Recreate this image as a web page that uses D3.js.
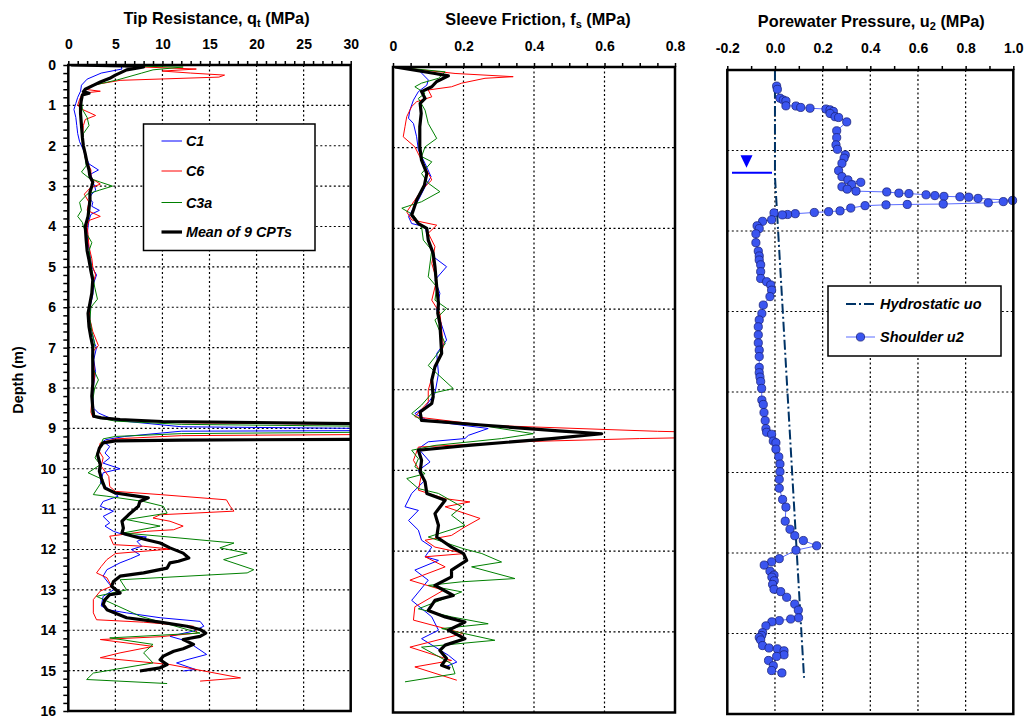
<!DOCTYPE html>
<html>
<head>
<meta charset="utf-8">
<script src="https://cdn.jsdelivr.net/npm/d3@7"></script>
<style>
body { margin: 0; background: #fff; }
svg { display: block; font-family: "Liberation Sans", Arial, sans-serif; }
</style>
</head>
<body>
<script>
// depth (m), value pairs
const qtC1 = [[0,0.1],[0.02,5.6],[0.1,5.7],[0.2,3.5],[0.35,2.0],[0.5,1.4],[0.65,1.3],[0.8,1.0],[0.95,0.8],[1.1,0.6],[1.3,0.8],[1.5,0.9],[1.7,1.0],[1.9,1.2],[2.1,1.6],[2.3,1.9],[2.45,2.2],[2.6,3.2],[2.7,2.4],[2.9,2.6],[3.0,2.8],[3.1,2.9],[3.2,2.5],[3.3,2.2],[3.4,2.6],[3.5,2.5],[3.6,3.3],[3.7,2.4],[3.85,2.2],[4.0,2.1],[4.2,2.0],[4.4,2.1],[4.7,2.3],[5.0,2.5],[5.2,3.0],[5.4,2.7],[5.7,2.6],[6.0,2.3],[6.3,2.3],[6.6,2.5],[6.9,2.8],[7.0,3.0],[7.3,2.7],[7.6,2.9],[7.9,2.7],[8.2,2.6],[8.5,2.7],[8.62,3.2],[8.8,5],[8.96,12],[9.02,40],[9.05,40],[9.07,12],[9.2,6],[9.28,4.0],[9.32,3.7],[9.45,4.4],[9.61,3.9],[9.73,4.4],[9.86,3.7],[10.0,5.5],[10.1,3.7],[10.35,3.4],[10.52,4.4],[10.68,5.3],[10.81,3.7],[10.93,3.4],[11.05,4.8],[11.18,3.7],[11.34,4.4],[11.42,3.9],[11.55,4.8],[11.63,5.85],[11.69,8.3],[11.8,7.3],[11.92,7.8],[12.0,6.7],[12.13,7.6],[12.23,6.6],[12.33,5.5],[12.5,4.1],[12.66,3.7],[12.87,4.4],[13.0,4.8],[13.16,3.7],[13.4,3.5],[13.5,4.4],[13.57,6.2],[13.69,9.75],[13.78,14.0],[13.9,14.4],[14.02,13.3],[14.15,10.8],[14.27,12.6],[14.6,14.7],[14.73,12.6],[14.81,11.5],[14.97,13.5],[15.01,12.2]];
const qtC6 = [[0,0.1],[0.05,8],[0.1,13.6],[0.15,10],[0.2,13],[0.25,16.6],[0.3,16.0],[0.38,5.5],[0.5,2.5],[0.6,1.7],[0.65,3.4],[0.7,1.5],[0.85,1.2],[1.0,1.0],[1.1,1.5],[1.25,2.9],[1.35,1.8],[1.5,1.6],[1.8,1.5],[2.0,1.6],[2.3,1.8],[2.6,2.4],[2.8,2.4],[2.95,3.4],[3.05,2.3],[3.2,1.7],[3.4,2.2],[3.6,2.0],[3.75,3.4],[3.85,2.2],[4.0,2.0],[4.2,2.1],[4.5,2.2],[4.8,2.5],[5.0,2.6],[5.2,2.9],[5.4,2.6],[5.7,2.5],[6.0,2.2],[6.3,2.3],[6.6,2.6],[6.95,3.2],[7.1,2.6],[7.4,2.7],[7.7,2.8],[8.0,2.6],[8.3,2.5],[8.6,2.4],[8.72,2.6],[8.8,6],[8.86,12],[8.92,40],[9.14,40],[9.18,12],[9.26,5],[9.36,3.4],[9.53,3.2],[9.73,3.7],[9.94,3.5],[10.19,4.3],[10.44,4.4],[10.56,5.0],[10.64,9.75],[10.77,16.8],[10.93,17.2],[11.05,17.6],[11.14,9.75],[11.22,9.0],[11.3,10.8],[11.42,12.2],[11.51,11.2],[11.55,8.3],[11.67,4.4],[11.88,4.8],[11.92,8.0],[11.99,10.8],[12.1,5.0],[12.25,4.1],[12.42,3.5],[12.58,3.0],[12.7,4.1],[12.91,4.6],[13.03,3.4],[13.24,2.66],[13.57,2.66],[13.74,3.0],[13.8,8.0],[13.9,13.3],[14.07,13.7],[14.16,9.75],[14.23,3.4],[14.4,9.0],[14.56,5.5],[14.68,3.4],[14.85,10.8],[15.18,18.3],[15.26,14.0]];
const qtC3a = [[0,0.1],[0.05,12.2],[0.12,9],[0.2,7.8],[0.37,5.2],[0.5,2.7],[0.6,1.9],[0.75,1.5],[0.9,1.4],[1.1,1.5],[1.3,2.0],[1.5,2.2],[1.7,1.6],[1.9,1.5],[2.1,1.7],[2.3,1.8],[2.5,1.9],[2.65,1.4],[2.8,2.2],[2.9,3.4],[3.0,4.7],[3.1,3.3],[3.2,2.0],[3.4,1.2],[3.6,1.4],[3.75,1.0],[3.9,1.5],[4.0,1.6],[4.2,2.0],[4.4,2.5],[4.6,2.2],[4.9,2.4],[5.2,2.6],[5.5,2.8],[5.8,3.1],[6.0,2.4],[6.3,2.3],[6.6,2.5],[6.9,2.8],[7.2,2.5],[7.5,2.6],[7.8,3.2],[8.0,2.8],[8.3,2.6],[8.6,2.5],[8.72,2.7],[8.82,5],[8.9,12],[8.97,40],[9.08,40],[9.13,12],[9.2,5],[9.26,3.7],[9.73,2.84],[9.9,3.4],[10.1,2.1],[10.27,3.7],[10.64,2.66],[10.68,4.1],[10.81,8.0],[10.93,10.1],[11.1,10.5],[11.26,6.2],[11.42,9.75],[11.59,5.85],[11.67,9.75],[11.84,17.6],[11.96,16.1],[12.09,19.0],[12.25,16.5],[12.5,19.7],[12.58,19.0],[12.75,5.5],[13.0,6.2],[13.16,3.0],[13.65,7.6],[13.98,12.6],[14.07,14.0],[14.19,4.4],[14.35,9.0],[14.56,8.0],[14.81,9.0],[15.06,2.66],[15.22,1.95],[15.32,10.5]];
const qtMean = [[0,0.3],[0.02,6],[0.05,8.0],[0.12,6.2],[0.25,5.0],[0.33,4.4],[0.42,3.4],[0.5,2.7],[0.6,1.8],[0.66,1.6],[0.7,2.2],[0.74,1.5],[0.85,1.4],[1.0,1.3],[1.2,1.3],[1.5,1.4],[1.8,1.5],[2.0,1.6],[2.2,1.8],[2.43,2.0],[2.6,2.2],[2.76,2.3],[2.9,2.6],[3.0,2.5],[3.15,2.3],[3.34,2.3],[3.55,2.2],[3.75,2.1],[4.0,1.8],[4.33,1.9],[4.6,2.0],[4.83,2.2],[5.1,2.4],[5.32,2.6],[5.65,2.5],[5.9,2.3],[6.15,2.1],[6.48,2.2],[6.75,2.4],[6.97,2.6],[7.3,2.6],[7.6,2.6],[7.9,2.6],[8.2,2.5],[8.5,2.6],[8.7,2.7],[8.74,3.5],[8.78,5.5],[8.83,10],[8.88,30],[8.95,50],[9.2,50],[9.27,30],[9.29,12],[9.31,5.0],[9.36,3.7],[9.49,3.3],[9.65,3.1],[9.9,3.4],[10.06,3.3],[10.27,3.55],[10.48,3.9],[10.6,5.0],[10.67,7.1],[10.72,8.5],[10.81,7.6],[10.93,7.45],[11.14,6.4],[11.3,5.7],[11.47,5.85],[11.59,5.7],[11.63,6.2],[11.76,8.3],[11.84,9.75],[11.96,10.8],[12.09,12.2],[12.21,12.8],[12.29,11.7],[12.33,10.8],[12.46,10.5],[12.58,8.0],[12.66,5.5],[12.79,4.8],[12.91,4.6],[13.08,5.5],[13.12,4.4],[13.24,3.9],[13.36,3.7],[13.49,4.1],[13.69,6.2],[13.8,9.75],[13.9,12.6],[13.98,14.0],[14.07,14.6],[14.15,14.0],[14.23,12.2],[14.35,13.3],[14.46,12.2],[14.52,11.2],[14.64,10.1],[14.73,9.75],[14.85,10.5],[14.93,9.75],[15.01,7.6]];

const fsC1 = [[0,0.006],[0.07,0.072],[0.32,0.1],[0.45,0.096],[0.61,0.072],[0.82,0.058],[1.07,0.048],[1.27,0.044],[1.4,0.058],[1.73,0.067],[2.06,0.072],[2.39,0.091],[2.72,0.108],[2.97,0.091],[3.3,0.072],[3.71,0.044],[3.88,0.053],[3.96,0.091],[4.29,0.1],[4.7,0.114],[4.95,0.152],[5.28,0.119],[5.61,0.133],[6.02,0.124],[6.77,0.152],[7.1,0.124],[7.6,0.129],[8.09,0.119],[8.43,0.091],[8.59,0.062],[8.77,0.1],[8.96,0.27],[9.13,0.214],[9.21,0.204],[9.29,0.1],[9.46,0.072],[9.79,0.105],[10.0,0.072],[10.24,0.091],[10.57,0.053],[10.9,0.034],[10.99,0.072],[11.24,0.044],[11.48,0.072],[11.73,0.081],[11.9,0.11],[12.14,0.091],[12.23,0.129],[12.47,0.062],[12.72,0.1],[13.22,0.053],[13.63,0.11],[13.96,0.129],[14.17,0.081],[14.58,0.157],[14.75,0.181],[14.87,0.148]];
const fsC6 = [[0,0.006],[0.16,0.176],[0.24,0.341],[0.28,0.261],[0.4,0.195],[0.49,0.166],[0.57,0.1],[0.74,0.11],[0.86,0.067],[0.98,0.053],[1.23,0.039],[1.48,0.034],[1.73,0.029],[1.98,0.062],[2.31,0.081],[2.8,0.11],[3.05,0.081],[3.3,0.062],[3.59,0.039],[3.79,0.053],[3.92,0.124],[4.12,0.1],[4.45,0.119],[4.87,0.11],[5.28,0.124],[5.78,0.11],[6.1,0.133],[6.93,0.143],[7.43,0.119],[8.01,0.1],[8.3,0.1],[8.67,0.062],[8.88,0.261],[9.03,0.75],[9.07,0.95],[9.17,0.95],[9.21,0.7],[9.29,0.356],[9.42,0.072],[9.75,0.058],[10.08,0.081],[10.49,0.072],[10.7,0.148],[10.78,0.218],[10.9,0.148],[11.19,0.247],[11.4,0.204],[11.61,0.166],[11.73,0.091],[11.9,0.119],[12.06,0.204],[12.14,0.091],[12.39,0.148],[12.72,0.048],[12.97,0.143],[13.38,0.062],[13.71,0.058],[14.04,0.2],[14.38,0.048],[14.71,0.166],[14.87,0.062],[15.2,0.181]];
const fsC3a = [[0,0.006],[0.12,0.148],[0.28,0.129],[0.4,0.081],[0.49,0.062],[0.65,0.091],[0.78,0.072],[1.07,0.091],[1.4,0.1],[1.77,0.124],[1.98,0.091],[2.22,0.081],[2.35,0.11],[2.64,0.081],[2.88,0.1],[3.09,0.133],[3.34,0.081],[3.5,0.025],[3.67,0.058],[3.96,0.081],[4.29,0.086],[4.54,0.11],[5.2,0.1],[5.45,0.124],[5.78,0.119],[5.98,0.152],[6.27,0.119],[6.86,0.148],[7.4,0.1],[7.97,0.171],[8.09,0.11],[8.38,0.081],[8.59,0.053],[8.76,0.081],[8.9,0.261],[9.09,0.398],[9.21,0.308],[9.38,0.119],[9.5,0.053],[9.71,0.072],[9.91,0.062],[10.08,0.091],[10.2,0.039],[10.45,0.072],[10.57,0.129],[10.9,0.195],[11.11,0.166],[11.36,0.204],[11.65,0.1],[11.94,0.2],[12.06,0.252],[12.27,0.308],[12.39,0.223],[12.68,0.346],[12.76,0.195],[12.85,0.1],[13.01,0.195],[13.43,0.072],[13.63,0.166],[13.8,0.27],[13.92,0.138],[14.21,0.289],[14.38,0.081],[14.79,0.166],[15.04,0.176],[15.24,0.034]];
const fsMean = [[0,0.006],[0.16,0.119],[0.22,0.157],[0.36,0.124],[0.49,0.11],[0.61,0.081],[0.78,0.091],[0.9,0.077],[1.15,0.08],[1.48,0.076],[1.98,0.076],[2.31,0.081],[2.64,0.096],[2.93,0.089],[3.3,0.067],[3.67,0.053],[3.88,0.072],[4.0,0.096],[4.29,0.1],[4.62,0.114],[4.95,0.119],[5.45,0.124],[5.86,0.129],[6.1,0.127],[6.36,0.133],[7.1,0.138],[7.43,0.119],[7.76,0.11],[8.17,0.114],[8.34,0.11],[8.55,0.077],[8.76,0.081],[8.88,0.261],[9.02,0.469],[9.09,0.592],[9.21,0.45],[9.38,0.214],[9.5,0.072],[9.75,0.081],[10.04,0.077],[10.28,0.091],[10.57,0.096],[10.74,0.148],[11.07,0.119],[11.36,0.129],[11.65,0.124],[11.9,0.166],[12.06,0.2],[12.23,0.209],[12.47,0.166],[12.64,0.166],[12.85,0.119],[13.1,0.171],[13.22,0.119],[13.47,0.1],[13.63,0.148],[13.76,0.204],[13.96,0.157],[14.17,0.204],[14.33,0.148],[14.46,0.133],[14.66,0.152],[14.83,0.138],[14.91,0.162]];

const u0 = [[0,0],[2.65,0],[15.1,0.122]];
const u2 = [[0.40,0.007],[0.48,0.01],[0.70,0.021],[0.745,0.035],[0.77,0.046],[0.89,0.046],[0.895,0.088],[0.93,0.108],[0.95,0.147],[0.97,0.214],[0.99,0.231],[1.03,0.245],[1.08,0.231],[1.16,0.252],[1.18,0.267],[1.29,0.301],[1.51,0.259],[1.68,0.259],[1.86,0.256],[1.97,0.262],[2.11,0.295],[2.19,0.29],[2.32,0.281],[2.50,0.267],[2.65,0.281],[2.73,0.306],[2.79,0.36],[2.85,0.322],[2.90,0.281],[2.96,0.303],[3.01,0.34],[3.03,0.469],[3.06,0.52],[3.07,0.562],[3.10,0.634],[3.12,0.671],[3.14,0.709],[3.15,0.776],[3.16,0.813],[3.19,0.852],[3.24,0.997],[3.27,0.958],[3.30,0.895],[3.33,0.706],[3.34,0.555],[3.35,0.466],[3.37,0.378],[3.43,0.318],[3.50,0.273],[3.52,0.225],[3.54,0.165],[3.57,0.085],[3.59,0.053],[3.60,0.031],[3.55,-0.004],[3.72,-0.014],[3.76,-0.052],[3.87,-0.075],[3.94,-0.066],[4.07,-0.08],[4.29,-0.08],[4.50,-0.07],[4.62,-0.066],[4.72,-0.066],[4.84,-0.06],[5.01,-0.06],[5.18,-0.06],[5.26,-0.035],[5.34,-0.018],[5.47,-0.014],[5.63,-0.021],[5.84,-0.049],[6.05,-0.055],[6.21,-0.066],[6.38,-0.07],[6.58,-0.07],[6.78,-0.07],[6.96,-0.066],[7.12,-0.066],[7.39,-0.066],[7.52,-0.066],[7.63,-0.063],[7.74,-0.06],[7.91,-0.056],[8.20,-0.055],[8.31,-0.049],[8.51,-0.046],[8.71,-0.041],[8.91,-0.038],[9.00,-0.035],[9.05,-0.014],[9.22,-0.007],[9.26,0.004],[9.42,0.004],[9.61,0.016],[9.79,0.021],[9.98,0.021],[10.17,0.018],[10.39,0.018],[10.67,0.032],[10.86,0.046],[11.21,0.043],[11.41,0.063],[11.57,0.083],[11.69,0.119],[11.82,0.175],[11.93,0.088],[12.14,0.018],[12.22,-0.014],[12.30,-0.045],[12.45,-0.021],[12.55,-0.004],[12.60,-0.013],[12.69,-0.003],[12.78,-0.01],[12.90,-0.004],[12.96,0.024],[13.10,0.049],[13.27,0.083],[13.42,0.098],[13.61,0.099],[13.64,0.066],[13.68,0.018],[13.71,-0.013],[13.81,-0.038],[13.98,-0.052],[14.05,-0.056],[14.10,-0.066],[14.16,-0.06],[14.30,-0.052],[14.36,-0.025],[14.38,0.01],[14.43,0.038],[14.53,0.038],[14.57,0.007],[14.67,-0.027],[14.80,-0.007],[14.92,-0.014],[14.98,0.029]];

const depthTicks = d3.range(0, 17, 1);
const qtTicks = [0, 5, 10, 15, 20, 25, 30];
const fsTicks = [0, 0.2, 0.4, 0.6, 0.8];
const uTicks = [-0.2, 0, 0.2, 0.4, 0.6, 0.8, 1.0];
const cptNames = ["C1", "C6", "C3a", "Mean of 9 CPTs"];
const cptColors = ["#0000ff", "#ff0000", "#008000", "#000000"];

const svg = d3.select("body").append("svg")
  .attr("width", 1029)
  .attr("height", 722);

svg.append("rect").attr("width", 1029).attr("height", 722).attr("fill", "#fff");

function makePanel(id, xDom, xRange, yRange, opt) {
  const x = d3.scaleLinear().domain(xDom).range(xRange);
  const y = d3.scaleLinear().domain([0, 16]).range(yRange);
  const g = svg.append("g");

  g.append("clipPath").attr("id", id)
    .append("rect")
    .attr("x", xRange[0]).attr("y", yRange[0])
    .attr("width", xRange[1] - xRange[0]).attr("height", yRange[1] - yRange[0]);

  // dotted grid
  g.selectAll(".vg").data(opt.xGrid).enter().append("line")
    .attr("x1", d => x(d)).attr("x2", d => x(d))
    .attr("y1", yRange[0]).attr("y2", yRange[1])
    .attr("stroke", "#000").attr("stroke-width", 1.2).attr("stroke-dasharray", "2,2.5");
  g.selectAll(".hg").data(opt.yGrid).enter().append("line")
    .attr("x1", xRange[0]).attr("x2", xRange[1])
    .attr("y1", d => y(d)).attr("y2", d => y(d))
    .attr("stroke", "#000").attr("stroke-width", 1.2).attr("stroke-dasharray", "2,2.5");

  // minor ticks on top
  g.append("g")
    .attr("transform", "translate(0," + yRange[0] + ")")
    .call(d3.axisTop(x).tickValues(opt.minor).tickSize(4).tickFormat(""))
    .call(a => a.select(".domain").remove())
    .call(a => a.selectAll("line").attr("stroke-width", 1.5));

  // labels on top
  g.append("g")
    .attr("transform", "translate(0," + opt.labelY + ")")
    .call(d3.axisTop(x).tickValues(opt.labels).tickSize(0).tickPadding(0).tickFormat(opt.fmt))
    .call(a => a.select(".domain").remove())
    .call(a => a.selectAll("text")
      .attr("font-size", 14).attr("font-weight", "bold").attr("fill", "#000")
      .attr("font-family", "Liberation Sans, Arial, sans-serif"));

  g.append("text")
    .attr("x", (xRange[0] + xRange[1]) / 2 + opt.titleDx)
    .attr("y", opt.titleY)
    .attr("text-anchor", "middle")
    .attr("font-size", 16.3).attr("font-weight", "bold")
    .call(t => {
      t.append("tspan").text(opt.title[0]);
      t.append("tspan").attr("font-size", 11).attr("dy", 3).text(opt.title[1]);
      t.append("tspan").attr("dy", -3).text(opt.title[2]);
    });

  return {x: x, y: y, g: g, xRange: xRange, yRange: yRange, id: id};
}

function drawFrame(p) {
  p.g.append("rect")
    .attr("x", p.xRange[0]).attr("y", p.yRange[0])
    .attr("width", p.xRange[1] - p.xRange[0]).attr("height", p.yRange[1] - p.yRange[0])
    .attr("fill", "none").attr("stroke", "#000").attr("stroke-width", 2.5);
}

function drawCpt(p, series) {
  const line = d3.line().x(d => p.x(d[1])).y(d => p.y(d[0]));
  const lg = p.g.append("g").attr("clip-path", "url(#" + p.id + ")");
  series.forEach((s, i) => {
    lg.append("path")
      .datum(s)
      .attr("d", line)
      .attr("fill", "none")
      .attr("stroke", cptColors[i])
      .attr("stroke-width", i == 3 ? 3.2 : 1)
      .attr("stroke-linejoin", "round");
  });
}

// ---- panel 1: tip resistance
const p1 = makePanel("clip1", [0, 30], [68.3, 350.7], [65, 711], {
  xGrid: [5, 10, 15, 20, 25], yGrid: d3.range(1, 16, 1),
  minor: d3.range(0, 31, 1), labels: qtTicks, fmt: d3.format("d"),
  labelY: 48.5, titleY: 24, titleDx: 7, title: ["Tip Resistance, q", "t", " (MPa)"]
});
drawCpt(p1, [qtC1, qtC6, qtC3a, qtMean]);

// depth axis on panel 1
svg.append("g")
  .attr("transform", "translate(68.3,0)")
  .call(d3.axisLeft(p1.y).tickValues(d3.range(0, 16.01, 0.2)).tickSize(5).tickFormat(""))
  .call(a => a.select(".domain").remove())
  .call(a => a.selectAll("line").attr("stroke-width", 1.5));
svg.append("g")
  .attr("transform", "translate(56,0)")
  .call(d3.axisLeft(p1.y).tickValues(depthTicks).tickSize(0).tickPadding(0).tickFormat(d3.format("d")))
  .call(a => a.select(".domain").remove())
  .call(a => a.selectAll("text")
    .attr("font-size", 14).attr("font-weight", "bold").attr("fill", "#000")
    .attr("font-family", "Liberation Sans, Arial, sans-serif"));
svg.append("text")
  .attr("transform", "translate(23,380) rotate(-90)")
  .attr("text-anchor", "middle")
  .attr("font-size", 14.5).attr("font-weight", "bold")
  .text("Depth (m)");
drawFrame(p1);

// legend panel 1
const leg1 = svg.append("g");
leg1.append("rect").attr("x", 143.5).attr("y", 124).attr("width", 171.5).attr("height", 126.5)
  .attr("fill", "#fff").attr("stroke", "#000").attr("stroke-width", 1.5);
cptNames.forEach((n, i) => {
  const yy = [141, 171, 202.5, 232][i];
  leg1.append("line").attr("x1", 161.5).attr("x2", 182).attr("y1", yy).attr("y2", yy)
    .attr("stroke", cptColors[i]).attr("stroke-width", i == 3 ? 3.2 : 1);
  leg1.append("text").attr("x", 186).attr("y", yy + 5)
    .attr("font-size", 14.3).attr("font-weight", "bold").attr("font-style", "italic")
    .text(n);
});

// ---- panel 2: sleeve friction
const p2 = makePanel("clip2", [0, 0.8], [393, 675], [67, 712.5], {
  xGrid: [0.2, 0.4, 0.6], yGrid: d3.range(2, 16, 2),
  minor: d3.range(0, 0.801, 0.05), labels: fsTicks, fmt: d => d == 0 ? "0" : d.toFixed(1),
  labelY: 50.5, titleY: 25, titleDx: 4, title: ["Sleeve Friction, f", "s", " (MPa)"]
});
drawCpt(p2, [fsC1, fsC6, fsC3a, fsMean]);
drawFrame(p2);

// ---- panel 3: porewater pressure
const p3 = makePanel("clip3", [-0.2, 1.0], [727.3, 1013.3], [70, 714], {
  xGrid: [0, 0.2, 0.4, 0.6, 0.8], yGrid: d3.range(2, 16, 2),
  minor: d3.range(-0.2, 1.001, 0.1), labels: uTicks, fmt: d => d.toFixed(1),
  labelY: 53, titleY: 27, titleDx: 1, title: ["Porewater Pressure, u", "2", " (MPa)"]
});
const uline = d3.line().x(d => p3.x(d[1])).y(d => p3.y(d[0]));
p3.g.append("path").datum(u0).attr("d", uline)
  .attr("fill", "none").attr("stroke", "#003366").attr("stroke-width", 2)
  .attr("stroke-dasharray", "10,3,2,3");
p3.g.append("path").datum(u2).attr("d", uline)
  .attr("fill", "none").attr("stroke", "#5a6cff").attr("stroke-width", 1);
p3.g.selectAll(".pt").data(u2).enter().append("circle")
  .attr("cx", d => p3.x(d[1])).attr("cy", d => p3.y(d[0])).attr("r", 4.1)
  .attr("fill", "#3a55f0").attr("stroke", "#1a237e").attr("stroke-width", 0.8);
drawFrame(p3);

// water table marker
const wtY = p3.y(2.55);
svg.append("path")
  .attr("d", d3.line()([[740.5, wtY - 17.5], [752.5, wtY - 17.5], [746.5, wtY - 5]]) + "Z")
  .attr("fill", "#0000ff");
svg.append("line").attr("x1", 732).attr("x2", 772).attr("y1", wtY).attr("y2", wtY)
  .attr("stroke", "#0000ff").attr("stroke-width", 2);

// legend panel 3
const leg3 = svg.append("g");
leg3.append("rect").attr("x", 828).attr("y", 286).attr("width", 173).attr("height", 70)
  .attr("fill", "#fff").attr("stroke", "#000").attr("stroke-width", 1.5);
leg3.append("line").attr("x1", 846).attr("x2", 875).attr("y1", 304).attr("y2", 304)
  .attr("stroke", "#003366").attr("stroke-width", 2).attr("stroke-dasharray", "10,3,2,3");
leg3.append("text").attr("x", 880).attr("y", 309)
  .attr("font-size", 14.5).attr("font-weight", "bold").attr("font-style", "italic")
  .text("Hydrostatic uo");
leg3.append("line").attr("x1", 846).attr("x2", 875).attr("y1", 337).attr("y2", 337)
  .attr("stroke", "#5a6cff").attr("stroke-width", 1);
leg3.append("circle").attr("cx", 860.5).attr("cy", 337).attr("r", 4.1)
  .attr("fill", "#3a55f0").attr("stroke", "#1a237e").attr("stroke-width", 0.8);
leg3.append("text").attr("x", 880).attr("y", 342)
  .attr("font-size", 14.5).attr("font-weight", "bold").attr("font-style", "italic")
  .text("Shoulder u2");
</script>
</body>
</html>
